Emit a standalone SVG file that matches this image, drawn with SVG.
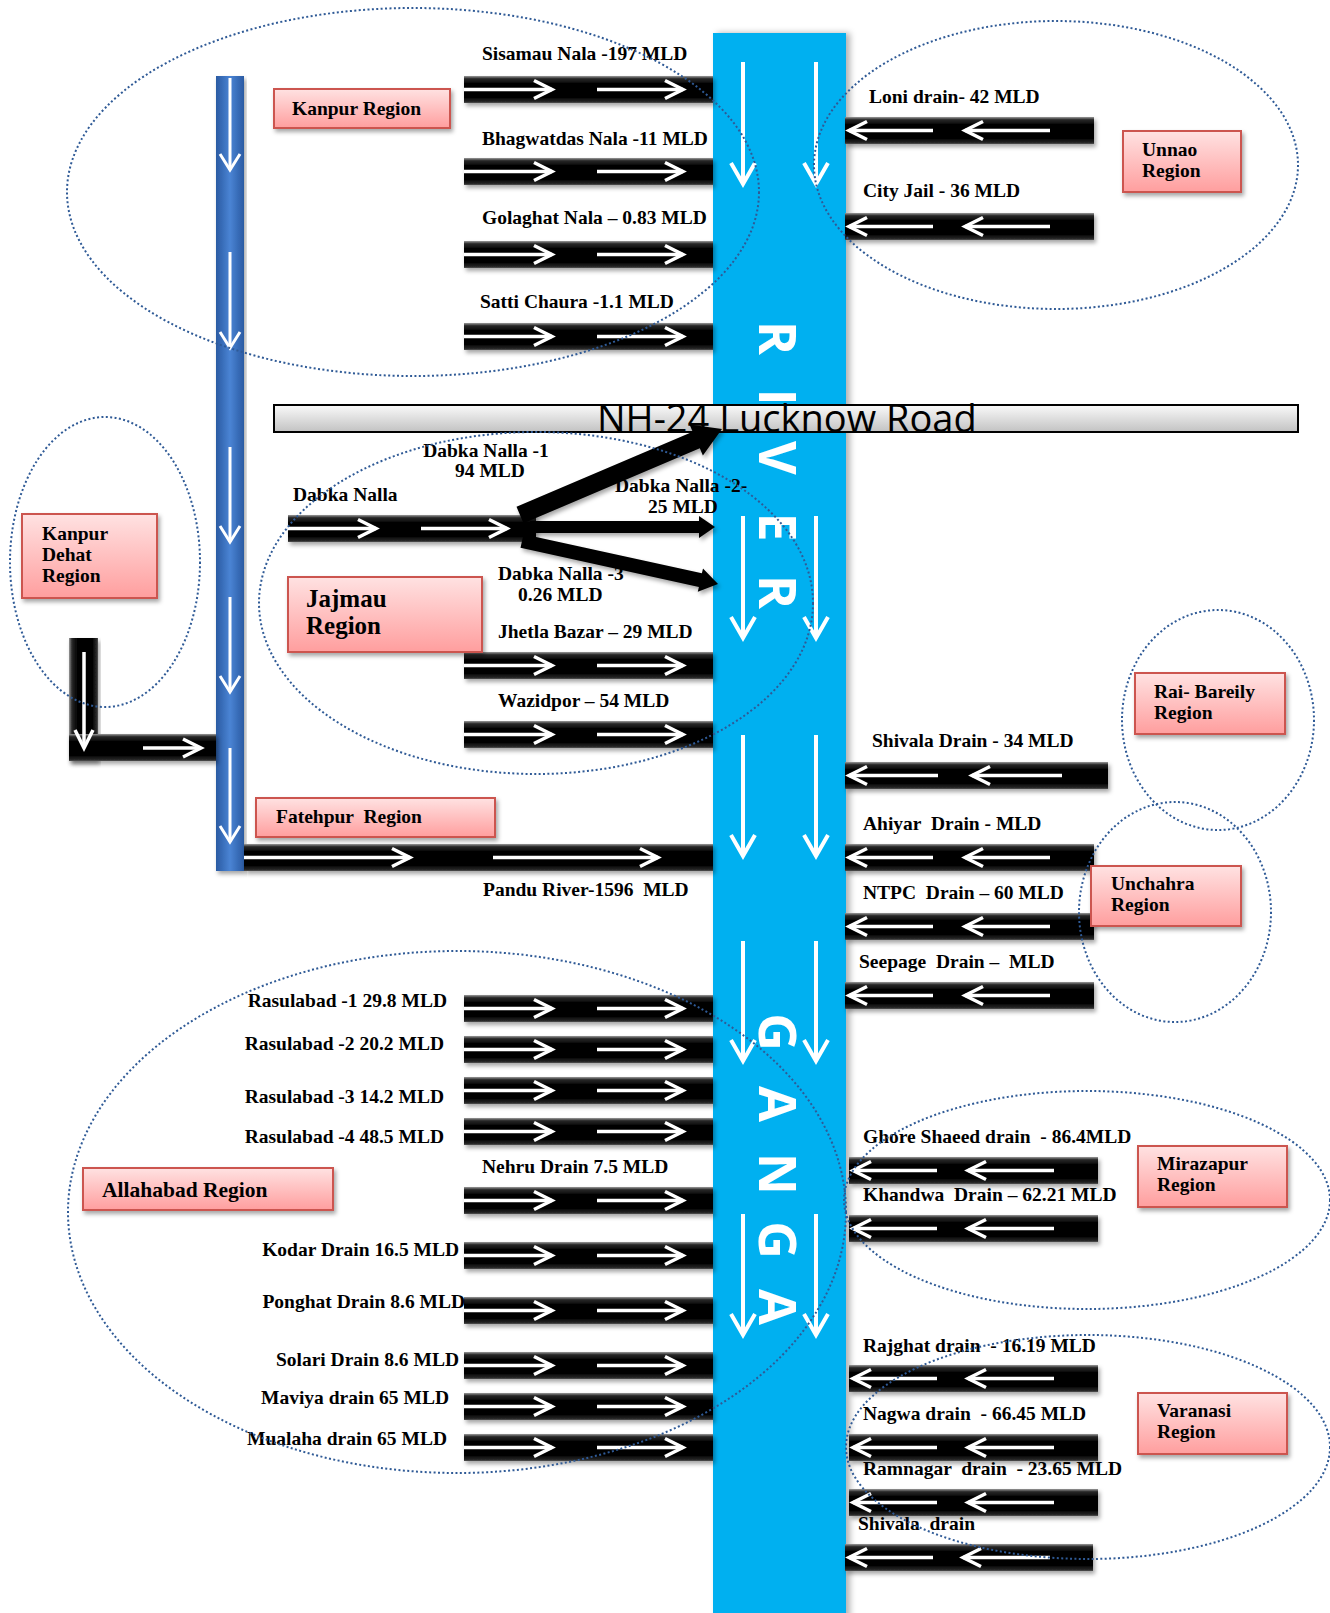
<svg xmlns="http://www.w3.org/2000/svg" width="1330" height="1613" viewBox="0 0 1330 1613">
<defs>
<style>
.lb{font-family:"Liberation Serif","Times New Roman",serif;font-weight:bold;font-size:19.5px;fill:#000;white-space:pre}
.big{font-size:25px}
.mid{font-size:21.5px}
.bar{fill:url(#gBar);filter:url(#sh)}
.barv{fill:url(#gBarV);filter:url(#sh)}
.wa{stroke:#fff;stroke-width:3.5;fill:none;marker-end:url(#mA)}
.wr{stroke:#fff;stroke-width:4;fill:none;marker-end:url(#mB)}
.wb{stroke:#fff;stroke-width:3;fill:none;marker-end:url(#mC)}
.box{fill:url(#gBox);stroke:#cc5550;stroke-width:2;filter:url(#sh)}
.el{fill:none;stroke:#2f5a96;stroke-width:2;stroke-dasharray:2 2.4}
.rv{font-family:"Open Sans","DejaVu Sans",sans-serif;font-weight:bold;font-size:52px;fill:#fff}
.dk{fill:#000;filter:url(#sh)}
</style>
<linearGradient id="gBar" x1="0" y1="0" x2="0" y2="1">
<stop offset="0" stop-color="#9a9a9a"/><stop offset="0.1" stop-color="#2a2a2a"/><stop offset="0.3" stop-color="#000"/><stop offset="0.8" stop-color="#000"/><stop offset="0.95" stop-color="#2a2a2a"/><stop offset="1" stop-color="#555"/>
</linearGradient>
<linearGradient id="gBarV" x1="0" y1="0" x2="1" y2="0">
<stop offset="0" stop-color="#9a9a9a"/><stop offset="0.1" stop-color="#2a2a2a"/><stop offset="0.3" stop-color="#000"/><stop offset="0.8" stop-color="#000"/><stop offset="0.95" stop-color="#2a2a2a"/><stop offset="1" stop-color="#555"/>
</linearGradient>
<linearGradient id="gBlue" x1="0" y1="0" x2="1" y2="0">
<stop offset="0" stop-color="#2a5aa2"/><stop offset="0.5" stop-color="#4a84d4"/><stop offset="1" stop-color="#2a5aa2"/>
</linearGradient>
<linearGradient id="gBox" x1="0" y1="0" x2="0" y2="1">
<stop offset="0" stop-color="#ffe2e2"/><stop offset="1" stop-color="#ff9e9e"/>
</linearGradient>
<linearGradient id="gRoad" x1="0" y1="0" x2="0" y2="1">
<stop offset="0" stop-color="#fafafa"/><stop offset="1" stop-color="#c2c2c2"/>
</linearGradient>
<filter id="sh" x="-10%" y="-30%" width="120%" height="170%">
<feDropShadow dx="2" dy="3" stdDeviation="2" flood-color="#000" flood-opacity="0.35"/>
</filter>
<filter id="shr" x="-10%" y="-5%" width="125%" height="110%">
<feDropShadow dx="4" dy="0" stdDeviation="3" flood-color="#000" flood-opacity="0.3"/>
</filter>
<marker id="mA" markerUnits="userSpaceOnUse" markerWidth="30" markerHeight="30" viewBox="-25 -15 30 30" refX="0" refY="0" orient="auto">
<path d="M-18,-9 L0,0 L-18,9" fill="none" stroke="#fff" stroke-width="3.5"/>
</marker>
<marker id="mB" markerUnits="userSpaceOnUse" markerWidth="34" markerHeight="34" viewBox="-28 -17 34 34" refX="0" refY="0" orient="auto">
<path d="M-21,-12 L0,0 L-21,12" fill="none" stroke="#fff" stroke-width="4"/>
</marker>
<marker id="mC" markerUnits="userSpaceOnUse" markerWidth="30" markerHeight="30" viewBox="-25 -15 30 30" refX="0" refY="0" orient="auto">
<path d="M-16,-10 L0,0 L-16,10" fill="none" stroke="#fff" stroke-width="3"/>
</marker>
</defs>
<rect width="1330" height="1613" fill="#fff"/>

<g id="river">
<rect x="713" y="33" width="133" height="1590" fill="#00b0f0" filter="url(#shr)"/>
<line class="wr" x1="743" y1="62" x2="743" y2="184"/><line class="wr" x1="816" y1="62" x2="816" y2="184"/>
<line class="wr" x1="743" y1="516" x2="743" y2="638"/><line class="wr" x1="816" y1="516" x2="816" y2="638"/>
<line class="wr" x1="743" y1="735" x2="743" y2="856"/><line class="wr" x1="816" y1="735" x2="816" y2="856"/>
<line class="wr" x1="743" y1="941" x2="743" y2="1061"/><line class="wr" x1="816" y1="941" x2="816" y2="1061"/>
<line class="wr" x1="743" y1="1214" x2="743" y2="1335"/><line class="wr" x1="816" y1="1214" x2="816" y2="1335"/>
<text class="rv" text-anchor="middle" transform="translate(759,338) rotate(90)">R</text>
<text class="rv" text-anchor="middle" transform="translate(759,397) rotate(90)">I</text>
<text class="rv" text-anchor="middle" transform="translate(759,458) rotate(90)">V</text>
<text class="rv" text-anchor="middle" transform="translate(759,527) rotate(90)">E</text>
<text class="rv" text-anchor="middle" transform="translate(759,592) rotate(90)">R</text>
<text class="rv" text-anchor="middle" transform="translate(759,1032) rotate(90)">G</text>
<text class="rv" text-anchor="middle" transform="translate(759,1104) rotate(90)">A</text>
<text class="rv" text-anchor="middle" transform="translate(759,1174) rotate(90)">N</text>
<text class="rv" text-anchor="middle" transform="translate(759,1240) rotate(90)">G</text>
<text class="rv" text-anchor="middle" transform="translate(759,1307) rotate(90)">A</text>
</g>

<g id="road">
<rect x="274" y="405" width="1024" height="27" fill="url(#gRoad)" stroke="#000" stroke-width="2"/>
<text x="597" y="432" font-family="'Open Sans','DejaVu Sans',sans-serif" font-size="38" fill="#000">NH-24 Lucknow Road</text>
</g>

<g id="kanpur-channel">
<rect x="216" y="76" width="28" height="795" fill="url(#gBlue)" filter="url(#sh)"/>
<line class="wb" x1="230" y1="78" x2="230" y2="170"/>
<line class="wb" x1="230" y1="252" x2="230" y2="348"/>
<line class="wb" x1="230" y1="447" x2="230" y2="542"/>
<line class="wb" x1="230" y1="597" x2="230" y2="692"/>
<line class="wb" x1="230" y1="748" x2="230" y2="842"/>
</g>

<g id="kanpur-dehat-drain">
<rect class="barv" x="69" y="638" width="29" height="123"/>
<rect class="bar" x="69" y="734" width="147" height="27"/>
<line class="wa" x1="84" y1="652" x2="84" y2="748"/>
<line class="wa" x1="143" y1="748" x2="201" y2="748"/>
</g>

<g id="connectors">
<g id="sisamau"><rect class="bar" x="464" y="76" width="249" height="27"/><line class="wa" x1="464" y1="89.5" x2="552" y2="89.5"/><line class="wa" x1="597" y1="89.5" x2="683" y2="89.5"/><text class="lb" x="482" y="60">Sisamau Nala -197 MLD</text></g>
<g id="bhagwatdas"><rect class="bar" x="464" y="158" width="249" height="27"/><line class="wa" x1="464" y1="171.5" x2="552" y2="171.5"/><line class="wa" x1="597" y1="171.5" x2="683" y2="171.5"/><text class="lb" x="482" y="145">Bhagwatdas Nala -11 MLD</text></g>
<g id="golaghat"><rect class="bar" x="464" y="241" width="249" height="27"/><line class="wa" x1="464" y1="254.5" x2="552" y2="254.5"/><line class="wa" x1="597" y1="254.5" x2="683" y2="254.5"/><text class="lb" x="482" y="224">Golaghat Nala – 0.83 MLD</text></g>
<g id="satti"><rect class="bar" x="464" y="323" width="249" height="27"/><line class="wa" x1="464" y1="336.5" x2="552" y2="336.5"/><line class="wa" x1="597" y1="336.5" x2="683" y2="336.5"/><text class="lb" x="480" y="308">Satti Chaura -1.1 MLD</text></g>

<g id="dabka">
<rect class="bar" x="288" y="515" width="248" height="27"/>
<line class="wa" x1="288" y1="528.5" x2="376" y2="528.5"/><line class="wa" x1="421" y1="528.5" x2="507" y2="528.5"/>
<polygon class="dk" points="523.5,523.3 699.8,448.3 702.9,455.6 722,429 689.5,424.4 692.7,431.7 516.5,506.7"/>
<polygon class="dk" points="530,521 699,521 699,516 715,527 699,538 699,533 530,533"/>
<polygon class="dk" points="520.5,547.8 698.9,587 697.8,591.8 718,584 703,568.4 701.9,573.3 523.5,534.2"/>
<text class="lb" x="293" y="501">Dabka Nalla</text>
<text class="lb" x="486" y="457" text-anchor="middle">Dabka Nalla -1</text>
<text class="lb" x="490" y="477" text-anchor="middle">94 MLD</text>
<text class="lb" x="615" y="492">Dabka Nalla -2-</text>
<text class="lb" x="683" y="513" text-anchor="middle">25 MLD</text>
<text class="lb" x="498" y="580">Dabka Nalla -3</text>
<text class="lb" x="518" y="601">0.26 MLD</text>
</g>
<g id="jhetla"><rect class="bar" x="464" y="652" width="249" height="27"/><line class="wa" x1="464" y1="665.5" x2="552" y2="665.5"/><line class="wa" x1="597" y1="665.5" x2="683" y2="665.5"/><text class="lb" x="498" y="638">Jhetla Bazar – 29 MLD</text></g>
<g id="wazidpor"><rect class="bar" x="464" y="721" width="249" height="27"/><line class="wa" x1="464" y1="734.5" x2="552" y2="734.5"/><line class="wa" x1="597" y1="734.5" x2="683" y2="734.5"/><text class="lb" x="498" y="707">Wazidpor – 54 MLD</text></g>
<g id="pandu"><rect class="bar" x="244" y="844" width="469" height="27"/><line class="wa" x1="244" y1="857.5" x2="410" y2="857.5"/><line class="wa" x1="493" y1="857.5" x2="658" y2="857.5"/><text class="lb" x="483" y="896">Pandu River-1596  MLD</text></g>

<g id="rasulabad1"><rect class="bar" x="464" y="995" width="249" height="27"/><line class="wa" x1="464" y1="1008.5" x2="552" y2="1008.5"/><line class="wa" x1="597" y1="1008.5" x2="683" y2="1008.5"/><text class="lb" x="447" y="1007" text-anchor="end">Rasulabad -1 29.8 MLD</text></g>
<g id="rasulabad2"><rect class="bar" x="464" y="1036" width="249" height="27"/><line class="wa" x1="464" y1="1049.5" x2="552" y2="1049.5"/><line class="wa" x1="597" y1="1049.5" x2="683" y2="1049.5"/><text class="lb" x="444" y="1050" text-anchor="end">Rasulabad -2 20.2 MLD</text></g>
<g id="rasulabad3"><rect class="bar" x="464" y="1077" width="249" height="27"/><line class="wa" x1="464" y1="1090.5" x2="552" y2="1090.5"/><line class="wa" x1="597" y1="1090.5" x2="683" y2="1090.5"/><text class="lb" x="444" y="1103" text-anchor="end">Rasulabad -3 14.2 MLD</text></g>
<g id="rasulabad4"><rect class="bar" x="464" y="1118" width="249" height="27"/><line class="wa" x1="464" y1="1131.5" x2="552" y2="1131.5"/><line class="wa" x1="597" y1="1131.5" x2="683" y2="1131.5"/><text class="lb" x="444" y="1143" text-anchor="end">Rasulabad -4 48.5 MLD</text></g>
<g id="nehru"><rect class="bar" x="464" y="1187" width="249" height="27"/><line class="wa" x1="464" y1="1200.5" x2="552" y2="1200.5"/><line class="wa" x1="597" y1="1200.5" x2="683" y2="1200.5"/><text class="lb" x="482" y="1173">Nehru Drain 7.5 MLD</text></g>
<g id="kodar"><rect class="bar" x="464" y="1242" width="249" height="27"/><line class="wa" x1="464" y1="1255.5" x2="552" y2="1255.5"/><line class="wa" x1="597" y1="1255.5" x2="683" y2="1255.5"/><text class="lb" x="459" y="1256" text-anchor="end">Kodar Drain 16.5 MLD</text></g>
<g id="ponghat"><rect class="bar" x="464" y="1297" width="249" height="27"/><line class="wa" x1="464" y1="1310.5" x2="552" y2="1310.5"/><line class="wa" x1="597" y1="1310.5" x2="683" y2="1310.5"/><text class="lb" x="465" y="1308" text-anchor="end">Ponghat Drain 8.6 MLD</text></g>
<g id="solari"><rect class="bar" x="464" y="1352" width="249" height="27"/><line class="wa" x1="464" y1="1365.5" x2="552" y2="1365.5"/><line class="wa" x1="597" y1="1365.5" x2="683" y2="1365.5"/><text class="lb" x="459" y="1366" text-anchor="end">Solari Drain 8.6 MLD</text></g>
<g id="maviya"><rect class="bar" x="464" y="1393" width="249" height="27"/><line class="wa" x1="464" y1="1406.5" x2="552" y2="1406.5"/><line class="wa" x1="597" y1="1406.5" x2="683" y2="1406.5"/><text class="lb" x="449" y="1404" text-anchor="end">Maviya drain 65 MLD</text></g>
<g id="mualaha"><rect class="bar" x="464" y="1434" width="249" height="27"/><line class="wa" x1="464" y1="1447.5" x2="552" y2="1447.5"/><line class="wa" x1="597" y1="1447.5" x2="683" y2="1447.5"/><text class="lb" x="447" y="1445" text-anchor="end">Mualaha drain 65 MLD</text></g>

<g id="loni"><rect class="bar" x="845" y="117" width="249" height="27"/><line class="wa" x1="933" y1="130.5" x2="849" y2="130.5"/><line class="wa" x1="1050" y1="130.5" x2="965" y2="130.5"/><text class="lb" x="869" y="103">Loni drain- 42 MLD</text></g>
<g id="cityjail"><rect class="bar" x="845" y="213" width="249" height="27"/><line class="wa" x1="933" y1="226.5" x2="849" y2="226.5"/><line class="wa" x1="1050" y1="226.5" x2="965" y2="226.5"/><text class="lb" x="863" y="197">City Jail - 36 MLD</text></g>
<g id="shivala34"><rect class="bar" x="845" y="762" width="263" height="27"/><line class="wa" x1="938" y1="775.5" x2="849" y2="775.5"/><line class="wa" x1="1062" y1="775.5" x2="972" y2="775.5"/><text class="lb" x="872" y="747">Shivala Drain - 34 MLD</text></g>
<g id="ahiyar"><rect class="bar" x="845" y="844" width="249" height="27"/><line class="wa" x1="933" y1="857.5" x2="849" y2="857.5"/><line class="wa" x1="1050" y1="857.5" x2="965" y2="857.5"/><text class="lb" x="863" y="830">Ahiyar  Drain - MLD</text></g>
<g id="ntpc"><rect class="bar" x="845" y="913" width="249" height="27"/><line class="wa" x1="933" y1="926.5" x2="849" y2="926.5"/><line class="wa" x1="1050" y1="926.5" x2="965" y2="926.5"/><text class="lb" x="863" y="899">NTPC  Drain – 60 MLD</text></g>
<g id="seepage"><rect class="bar" x="845" y="982" width="249" height="27"/><line class="wa" x1="933" y1="995.5" x2="849" y2="995.5"/><line class="wa" x1="1050" y1="995.5" x2="965" y2="995.5"/><text class="lb" x="859" y="968">Seepage  Drain –  MLD</text></g>
<g id="ghore"><rect class="bar" x="849" y="1157" width="249" height="27"/><line class="wa" x1="937" y1="1170.5" x2="853" y2="1170.5"/><line class="wa" x1="1054" y1="1170.5" x2="968" y2="1170.5"/><text class="lb" x="863" y="1143">Ghore Shaeed drain  - 86.4MLD</text></g>
<g id="khandwa"><rect class="bar" x="849" y="1215" width="249" height="27"/><line class="wa" x1="937" y1="1228.5" x2="853" y2="1228.5"/><line class="wa" x1="1054" y1="1228.5" x2="968" y2="1228.5"/><text class="lb" x="863" y="1201">Khandwa  Drain – 62.21 MLD</text></g>
<g id="rajghat"><rect class="bar" x="849" y="1365" width="249" height="27"/><line class="wa" x1="937" y1="1378.5" x2="853" y2="1378.5"/><line class="wa" x1="1054" y1="1378.5" x2="968" y2="1378.5"/><text class="lb" x="863" y="1352">Rajghat drain  - 16.19 MLD</text></g>
<g id="nagwa"><rect class="bar" x="849" y="1434" width="249" height="27"/><line class="wa" x1="937" y1="1447.5" x2="853" y2="1447.5"/><line class="wa" x1="1054" y1="1447.5" x2="968" y2="1447.5"/><text class="lb" x="863" y="1420">Nagwa drain  - 66.45 MLD</text></g>
<g id="ramnagar"><rect class="bar" x="849" y="1489" width="249" height="27"/><line class="wa" x1="937" y1="1502.5" x2="853" y2="1502.5"/><line class="wa" x1="1054" y1="1502.5" x2="968" y2="1502.5"/><text class="lb" x="863" y="1475">Ramnagar  drain  - 23.65 MLD</text></g>
<g id="shivala-drain"><rect class="bar" x="845" y="1544" width="248" height="27"/><line class="wa" x1="933" y1="1557.5" x2="849" y2="1557.5"/><line class="wa" x1="1050" y1="1557.5" x2="963" y2="1557.5"/><text class="lb" x="858" y="1530">Shivala  drain</text></g>
</g>

<g id="kanpur-region"><rect class="box" x="274" y="89" width="176" height="39"/><text class="lb" x="292" y="115">Kanpur Region</text></g>
<g id="unnao-region"><rect class="box" x="1123" y="131" width="118" height="61"/><text class="lb" x="1142" y="156">Unnao</text><text class="lb" x="1142" y="177">Region</text></g>
<g id="kanpur-dehat-region"><rect class="box" x="22" y="514" width="135" height="84"/><text class="lb" x="42" y="540">Kanpur</text><text class="lb" x="42" y="561">Dehat</text><text class="lb" x="42" y="582">Region</text></g>
<g id="jajmau-region"><rect class="box" x="288" y="577" width="194" height="75"/><text class="lb big" x="306" y="607">Jajmau</text><text class="lb big" x="306" y="634">Region</text></g>
<g id="raibareily-region"><rect class="box" x="1135" y="673" width="150" height="61"/><text class="lb" x="1154" y="698">Rai- Bareily</text><text class="lb" x="1154" y="719">Region</text></g>
<g id="fatehpur-region"><rect class="box" x="256" y="798" width="239" height="39"/><text class="lb" x="276" y="823">Fatehpur  Region</text></g>
<g id="unchahra-region"><rect class="box" x="1091" y="866" width="150" height="60"/><text class="lb" x="1111" y="890">Unchahra</text><text class="lb" x="1111" y="911">Region</text></g>
<g id="allahabad-region"><rect class="box" x="83" y="1168" width="250" height="42"/><text class="lb mid" x="102" y="1197">Allahabad Region</text></g>
<g id="mirazapur-region"><rect class="box" x="1138" y="1146" width="149" height="61"/><text class="lb" x="1157" y="1170">Mirazapur</text><text class="lb" x="1157" y="1191">Region</text></g>
<g id="varanasi-region"><rect class="box" x="1138" y="1393" width="149" height="61"/><text class="lb" x="1157" y="1417">Varanasi</text><text class="lb" x="1157" y="1438">Region</text></g>

<g id="region-outlines">
<ellipse class="el" cx="413" cy="192" rx="346" ry="184"/>
<ellipse class="el" cx="1056" cy="165" rx="242" ry="144"/>
<ellipse class="el" cx="105" cy="562" rx="95" ry="145"/>
<ellipse class="el" cx="536" cy="603" rx="277" ry="171"/>
<ellipse class="el" cx="1218" cy="720" rx="96" ry="110"/>
<ellipse class="el" cx="1175" cy="912" rx="96" ry="110"/>
<ellipse class="el" cx="457" cy="1212" rx="389" ry="261"/>
<ellipse class="el" cx="1087" cy="1200" rx="243" ry="109"/>
<ellipse class="el" cx="1088" cy="1447" rx="242" ry="112"/>
</g>
</svg>
